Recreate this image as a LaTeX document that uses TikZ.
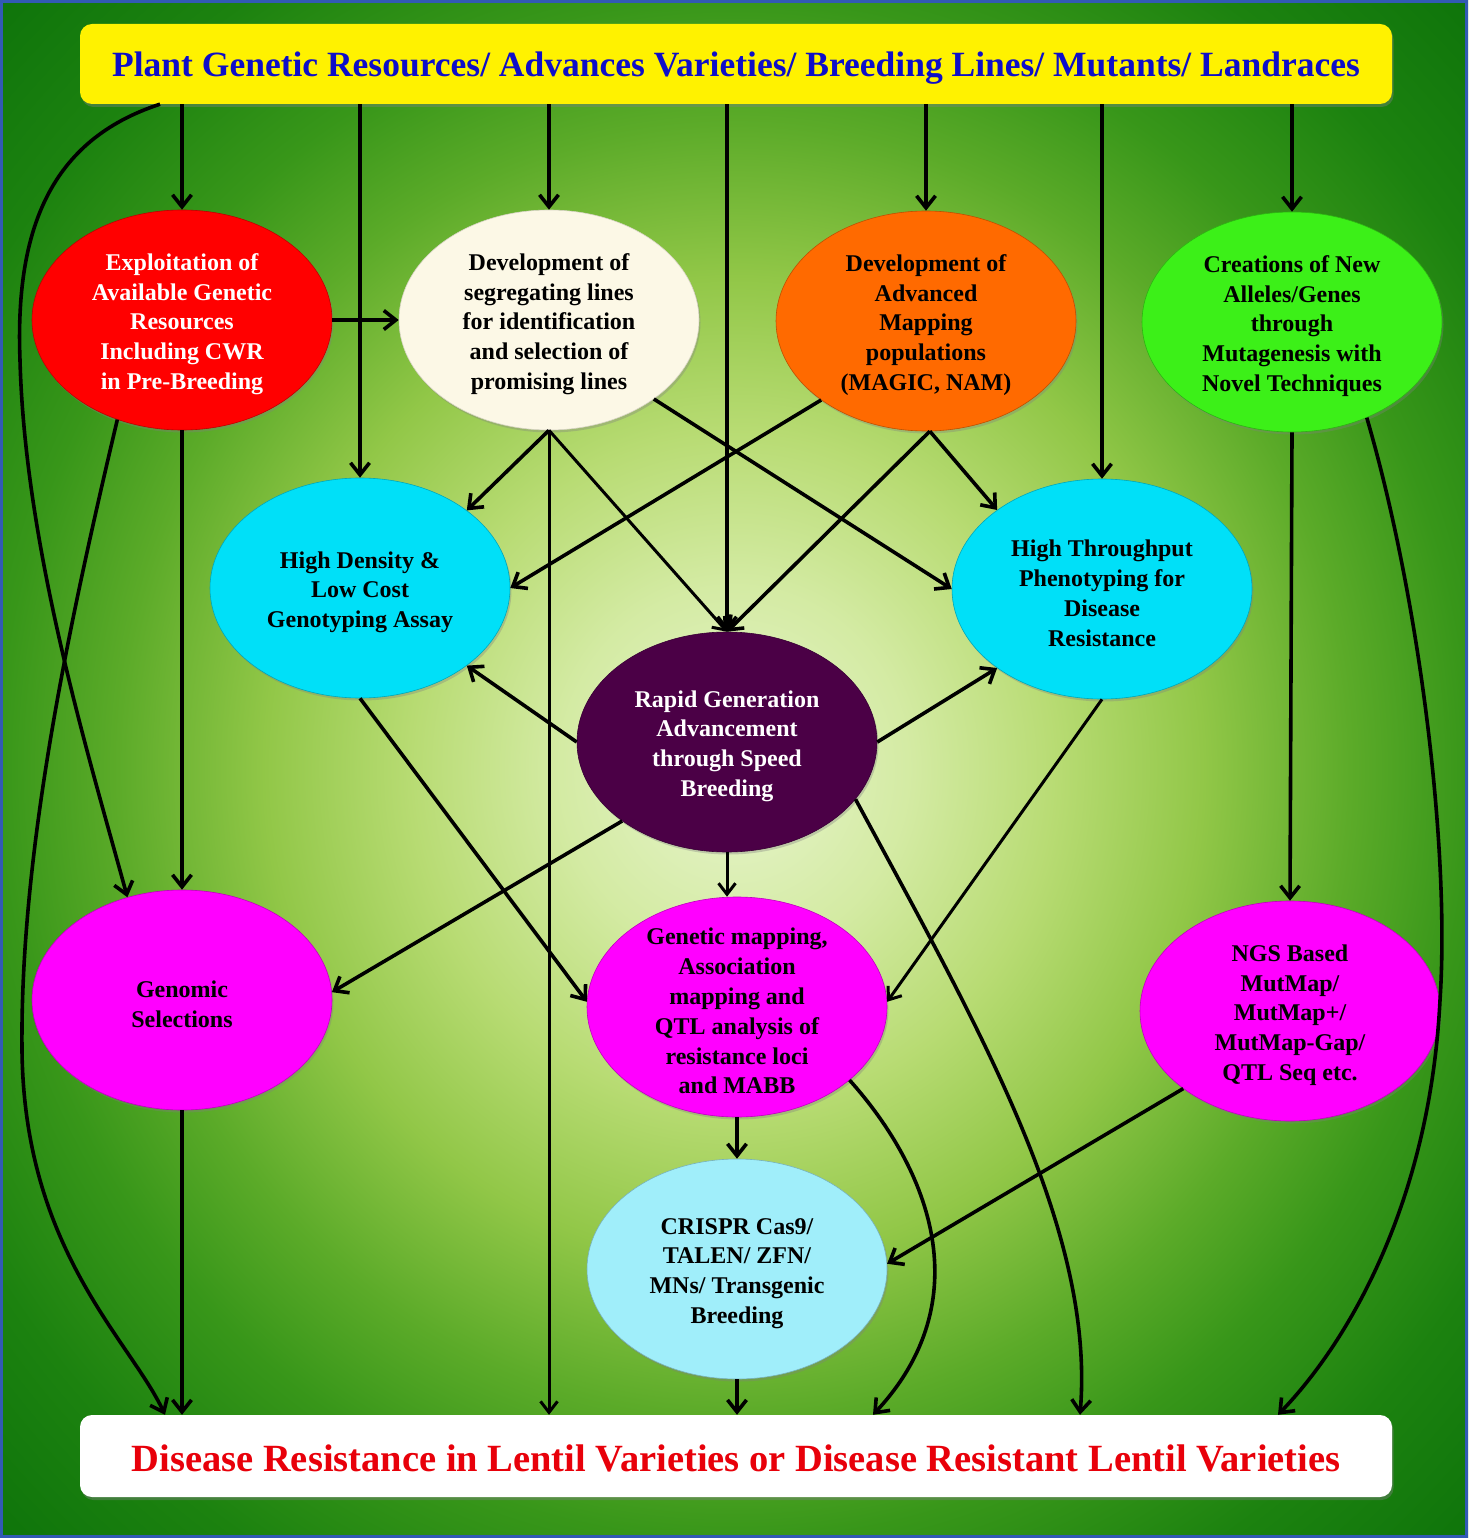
\documentclass[tikz,border=0pt]{standalone}
\usepackage{fontspec}
\setmainfont{Liberation Serif}
\usetikzlibrary{arrows.meta,shapes.geometric,shadows,calc}

\pgfdeclareradialshading{bgshade}{\pgfpoint{0bp}{0bp}}{%
rgb(0bp)=(0.91,0.96,0.81);
rgb(6bp)=(0.83,0.92,0.64);
rgb(11bp)=(0.72,0.86,0.45);
rgb(16bp)=(0.57,0.78,0.28);
rgb(21bp)=(0.36,0.67,0.16);
rgb(25bp)=(0.22,0.59,0.10);
rgb(30bp)=(0.11,0.51,0.06);
rgb(36bp)=(0.05,0.45,0.04);
rgb(50bp)=(0.05,0.45,0.04)}

\definecolor{cRed}{RGB}{255,0,0}
\definecolor{cCream}{RGB}{252,248,230}
\definecolor{cOrange}{RGB}{255,106,0}
\definecolor{cGreen}{RGB}{60,240,24}
\definecolor{cCyan}{RGB}{0,224,248}
\definecolor{cPurple}{RGB}{75,0,70}
\definecolor{cMag}{RGB}{255,0,255}
\definecolor{cLCyan}{RGB}{160,238,250}
\definecolor{cBlue}{RGB}{14,14,200}
\definecolor{cTxtRed}{RGB}{232,0,10}
\definecolor{cBorder}{RGB}{50,90,180}

\newcommand\liftline{\rule{0pt}{25pt}}

\tikzset{
  ell/.style={ellipse, minimum width=300pt, minimum height=220pt, inner sep=-40pt,
    align=center, font=\fontsize{24}{29.8}\selectfont\bfseries,
    fill=#1, draw=#1!75!black, line width=0.6pt,
    drop shadow={shadow xshift=1.5pt, shadow yshift=-2.5pt, opacity=0.35}},
  bigbox/.style={rounded corners=12pt, minimum width=1312pt, inner sep=0pt,
    text depth=0pt,
    drop shadow={shadow xshift=1.5pt, shadow yshift=-3pt, opacity=0.4}},
  arr/.style={line width=3.6pt, -{Straight Barb[length=12pt,width=19pt]}},
  tarr/.style={line width=3pt, -{Straight Barb[length=11pt,width=17pt]}}
}

\begin{document}
\begin{tikzpicture}[x=1pt,y=-1pt]
\useasboundingbox (0,0) rectangle (1468,1538);
\shade[shading=bgshade] (0,0) rectangle (1468,1538);
\draw[cBorder, line width=3pt] (1.5,1.5) rectangle (1466.5,1536.5);

% boxes
\node[bigbox, minimum height=80pt, fill=yellow, text=cBlue, text height=26pt,
  font=\fontsize{35.5}{40}\selectfont\bfseries] (top) at (736,64)
  {Plant Genetic Resources/ Advances Varieties/ Breeding Lines/ Mutants/ Landraces};
\node[bigbox, minimum height=82pt, fill=white, text=cTxtRed, text height=30pt,
  font=\fontsize{38.5}{42}\selectfont\bfseries] (bot) at (736,1456)
  {Disease Resistance in Lentil Varieties or Disease Resistant Lentil Varieties};

% ellipses
\node[ell=cRed, text=white] (exp) at (182,320)
  {\liftline Exploitation of\\Available Genetic\\Resources\\Including CWR\\in Pre-Breeding};
\node[ell=cCream, draw=cCream!85!black] (dev) at (549,320)
  {\liftline Development of\\segregating lines\\for identification\\and selection of\\promising lines};
\node[ell=cOrange] (org) at (926,321)
  {\liftline Development of\\Advanced\\Mapping\\populations\\(MAGIC, NAM)};
\node[ell=cGreen] (grn) at (1292,322)
  {\liftline Creations of New\\Alleles/Genes\\through\\Mutagenesis with\\Novel Techniques};
\node[ell=cCyan] (hd) at (360,588)
  {\liftline High Density \&\\Low Cost\\Genotyping Assay};
\node[ell=cCyan] (ht) at (1102,589)
  {\liftline High Throughput\\Phenotyping for\\Disease\\Resistance};
\node[ell=cPurple, text=white] (pur) at (727,742)
  {\liftline Rapid Generation\\Advancement\\through Speed\\Breeding};
\node[ell=cMag] (gs) at (182,1000)
  {\liftline Genomic\\Selections};
\node[ell=cMag] (gm) at (737,1007)
  {\liftline Genetic mapping,\\Association\\mapping and\\QTL analysis of\\resistance loci\\and MABB};
\node[ell=cMag] (ngs) at (1290,1011)
  {\liftline NGS Based\\MutMap/\\MutMap+/\\MutMap-Gap/\\QTL Seq etc.};
\node[ell=cLCyan] (cr) at (737,1269)
  {\liftline CRISPR Cas9/\\TALEN/ ZFN/\\MNs/ Transgenic\\Breeding};

% from top box
\draw[arr] (top.south -| exp.north) -- (exp.north);
\draw[arr] (top.south -| hd.north) -- (hd.north);
\draw[arr] (top.south -| dev.north) -- (dev.north);
\draw[arr] (top.south -| pur.north) -- (pur.north);
\draw[arr] (top.south -| org.north) -- (org.north);
\draw[arr] (top.south -| ht.north) -- (ht.north);
\draw[arr] (top.south -| grn.north) -- (grn.north);
\draw[arr] ($(top.south)+(-576,0)$) .. controls (50,140) and (15,230) .. (20,360)
  .. controls (25,550) and (90,760) .. (gs.118);

% left column
\draw[arr] (exp.237) .. controls (70,620) and (20,850) .. (22,1050)
  .. controls (24,1250) and (130,1340) .. ($(bot.north)+(-571,0)$);
\draw[arr] (exp.south) -- (gs.north);
\draw[arr] (gs.south) -- (bot.north -| gs.south);
\draw[arr] (exp.east) -- (dev.west);

% from development of segregating lines
\draw[arr] (dev.south) -- (hd.36);
\draw[tarr] (dev.south) -- (bot.north -| dev.south);
\draw[tarr] (dev.south) -- (pur.north);
\draw[arr] (dev.-37) -- (ht.west);

% from mapping populations
\draw[arr] (org.217) -- (hd.east);
\draw[arr] (org.-88) -- (pur.north);
\draw[arr] (org.-88) -- (ht.143);

% from speed breeding
\draw[arr] (pur.west) -- (hd.-36);
\draw[arr] (pur.east) -- (ht.217);
\draw[tarr] (pur.south) -- (pur.south |- gm.north);
\draw[arr] (pur.217) -- (gs.3);
\draw[arr] (pur.-24) .. controls (980,1030) and (1095,1230) .. ($(bot.north)+(344,0)$);

% genotyping / phenotyping to mapping
\draw[arr] (hd.south) -- (gm.178);
\draw[tarr] (ht.south) -- (gm.2);

% lower part
\draw[arr] (gm.south) -- (cr.north);
\draw[arr] (gm.-33) .. controls (930,1170) and (980,1300) .. ($(bot.north)+(137,0)$);
\draw[arr] (cr.south) -- (bot.north -| cr.south);
\draw[arr] (ngs.216) -- (cr.2);
\draw[arr] (grn.south) -- (ngs.north);
\draw[arr] (grn.-52) .. controls (1420,600) and (1450,850) .. (1440,1000)
  .. controls (1430,1200) and (1350,1340) .. ($(bot.north)+(542,0)$);
\end{tikzpicture}
\end{document}
